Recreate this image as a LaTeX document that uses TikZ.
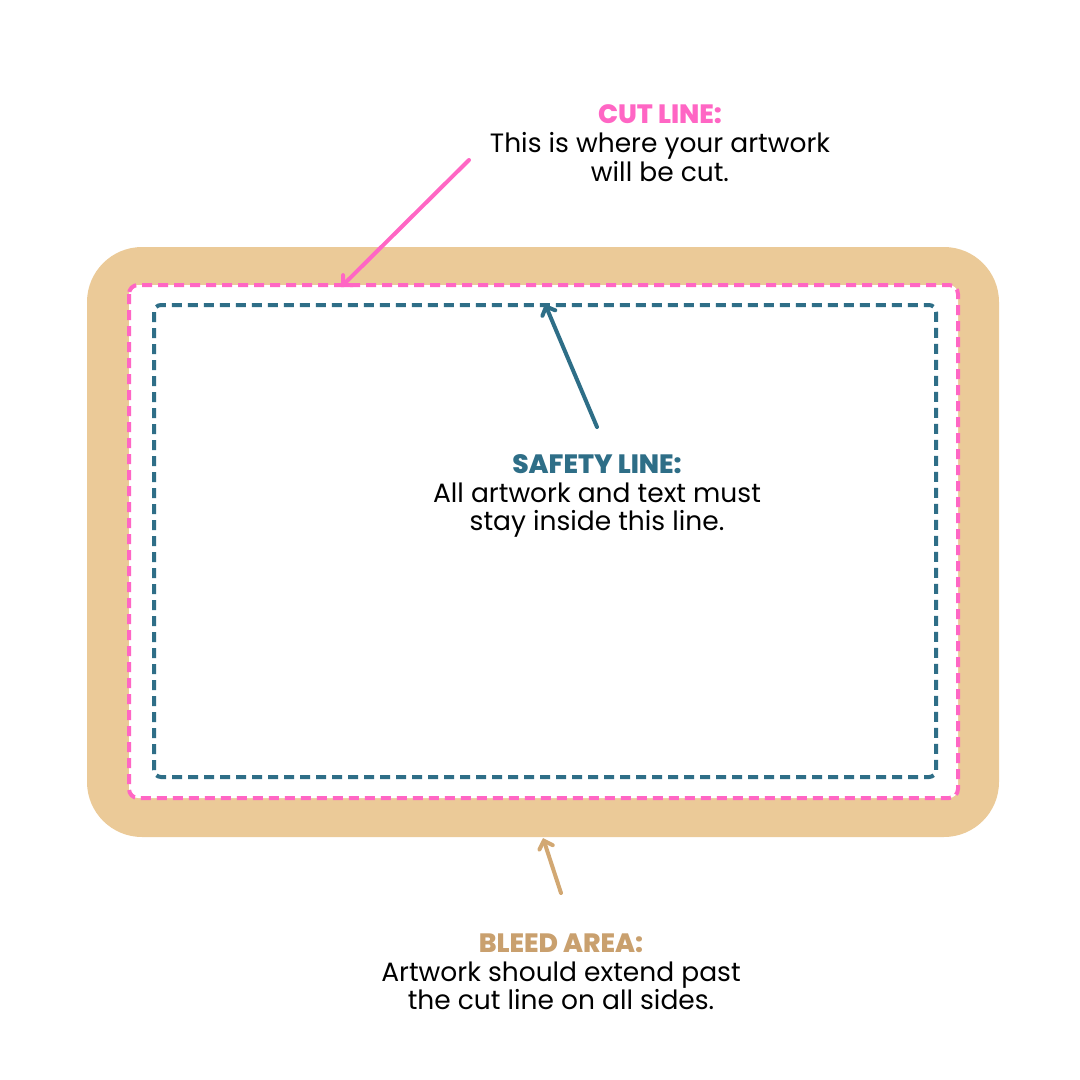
\documentclass[tikz,border=0pt]{standalone}
\usepackage{fontspec}
\setmainfont{Poppins}[BoldFont={Poppins ExtraBold}]
\usetikzlibrary{arrows.meta}

\definecolor{bleedtan}{HTML}{EBCA98}
\definecolor{bleedtext}{HTML}{C9A06E}
\definecolor{bleedarrow}{HTML}{D2A873}
\definecolor{cutpink}{HTML}{FF66C4}
\definecolor{safeblue}{HTML}{2E6E87}

\tikzset{
    cutdash/.style={cutpink, line width=4pt, dash pattern=on 10pt off 6pt},
    safedash/.style={safeblue, line width=4pt, dash pattern=on 10pt off 6pt},
    pointer/.style={line width=4pt, line cap=round, -{Straight Barb[length=7pt,width=14pt,line cap=round]}},
    notetext/.style={align=center, font=\fontsize{26.5}{28.7}\selectfont, inner sep=0pt}
}

\begin{document}
\begin{tikzpicture}[x=1pt,y=-1pt]
    \useasboundingbox (0,0) rectangle (1080,1080);
    % Important coordinates are defined
    \coordinate (cut_tip) at (341,287);
    \coordinate (cut_tail) at (469,160);
    \coordinate (safe_tip) at (545,304);
    \coordinate (safe_tail) at (597,427);
    \coordinate (bleed_tip) at (543,838);
    \coordinate (bleed_tail) at (561,893);

    % bleed area and white card
    \fill[bleedtan, rounded corners=55pt] (87,247) rectangle (999,837);
    \fill[white, rounded corners=9pt] (129,285) rectangle (958,798);
    \draw[cutdash, rounded corners=9pt] (129,285) rectangle (958,798);
    \draw[safedash, rounded corners=7pt] (154,305) rectangle (936,777);

    % labels
    \node[notetext] (cut) at (660,143) {{\bfseries\color{cutpink}CUT LINE:}\\This is where your artwork\\will be cut.};
    \node[notetext] (safe) at (597,496) {{\bfseries\color{safeblue}SAFETY LINE:}\\All artwork and text must\\stay inside this line.};
    \node[notetext] (bleed) at (561,972) {{\bfseries\color{bleedtext}BLEED AREA:}\\Artwork should extend past\\the cut line on all sides.};

    % arrows
    \draw[pointer, cutpink] (cut_tail) -- (cut_tip);
    \draw[pointer, safeblue] (safe_tail) -- (safe_tip);
    \draw[pointer, bleedarrow] (bleed_tail) -- (bleed_tip);
\end{tikzpicture}
\end{document}
